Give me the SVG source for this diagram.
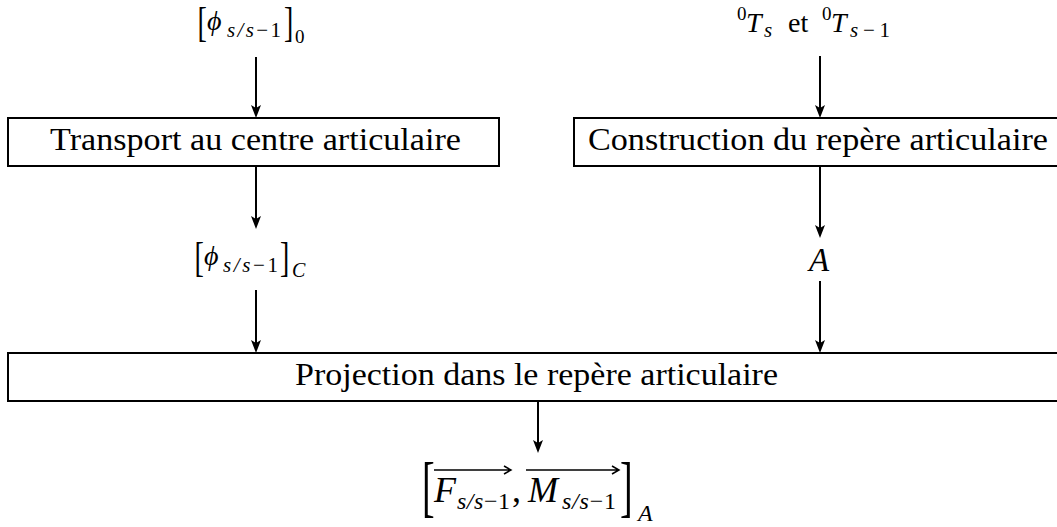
<svg xmlns="http://www.w3.org/2000/svg" width="1057" height="527" viewBox="0 0 1057 527">
<style>
.box{fill:none;stroke:#000;stroke-width:2}
.conn{fill:none;stroke:#000;stroke-width:2;marker-end:url(#ah)}
.t{font-family:"Liberation Serif","DejaVu Serif",serif;fill:#000}
.it{font-style:italic}
.vec{fill:none;stroke:#000;stroke-width:1.5}
</style>
<defs>
<marker id="ah" markerUnits="userSpaceOnUse" viewBox="0 0 13 10" refX="9" refY="5" markerWidth="13" markerHeight="10" orient="auto">
<path d="M0,0 L13,5 L0,10 L3,5 z" fill="#000"/>
</marker>
</defs>
<rect width="1057" height="527" fill="#fff"/>

<g id="connectors">
<line class="conn" x1="256" y1="57" x2="256" y2="114"/>
<line class="conn" x1="820" y1="56" x2="820" y2="114"/>
<line class="conn" x1="256" y1="166" x2="256" y2="225"/>
<line class="conn" x1="820" y1="166" x2="820" y2="234"/>
<line class="conn" x1="256" y1="290" x2="256" y2="349"/>
<line class="conn" x1="820" y1="281" x2="820" y2="349"/>
<line class="conn" x1="538" y1="401" x2="538" y2="449"/>
</g>

<g id="n-phi0" class="t">
<text transform="translate(197.5,36) scale(1,1.5)" font-size="28">[</text>
<text x="207" y="30" font-size="28" class="it">ϕ</text>
<text x="227" y="37" font-size="21" textLength="54" lengthAdjust="spacing"><tspan class="it">s/s</tspan>−1</text>
<text transform="translate(284,36) scale(1,1.5)" font-size="28">]</text>
<text x="295" y="43" font-size="19">0</text>
</g>

<g id="n-T" class="t">
<text x="737" y="20" font-size="19">0</text>
<text x="746" y="32" font-size="28" class="it">T</text>
<text x="764" y="37" font-size="21" class="it">s</text>
<text x="788" y="32" font-size="28">et</text>
<text x="822" y="20" font-size="19">0</text>
<text x="831" y="32" font-size="28" class="it">T</text>
<text x="850" y="37" font-size="21" textLength="40" lengthAdjust="spacing"><tspan class="it">s</tspan>−1</text>
</g>

<g id="n-transport">
<rect class="box" x="8" y="118" width="491" height="48"/>
<text class="t" x="50" y="150" font-size="32" textLength="411" lengthAdjust="spacingAndGlyphs">Transport au centre articulaire</text>
</g>

<g id="n-construction">
<rect class="box" x="574" y="118" width="520" height="48"/>
<text class="t" x="588" y="150" font-size="32" textLength="460" lengthAdjust="spacingAndGlyphs">Construction du repère articulaire</text>
</g>

<g id="n-phiC" class="t">
<text transform="translate(194.5,271) scale(1,1.5)" font-size="28">[</text>
<text x="204" y="265" font-size="28" class="it">ϕ</text>
<text x="223" y="272" font-size="21" textLength="55" lengthAdjust="spacing"><tspan class="it">s/s</tspan>−1</text>
<text transform="translate(280,271) scale(1,1.5)" font-size="28">]</text>
<text x="292" y="277" font-size="20" class="it">C</text>
</g>

<g id="n-A" class="t">
<text x="809" y="271" font-size="33" class="it">A</text>
</g>

<g id="n-projection">
<rect class="box" x="8" y="353" width="1080" height="48"/>
<text class="t" x="295" y="385" font-size="32" textLength="483" lengthAdjust="spacingAndGlyphs">Projection dans le repère articulaire</text>
</g>

<g id="n-FM" class="t">
<text transform="translate(422,509) scale(1,1.8)" font-size="38">[</text>
<text x="434" y="502" font-size="36" class="it">F</text>
<text x="457" y="509" font-size="24" textLength="53" lengthAdjust="spacing"><tspan class="it">s/s</tspan>−1</text>
<text x="512" y="502" font-size="36">,</text>
<text x="528" y="502" font-size="36" class="it">M</text>
<text x="562" y="509" font-size="24" textLength="54" lengthAdjust="spacing"><tspan class="it">s/s</tspan>−1</text>
<text transform="translate(620,509) scale(1,1.8)" font-size="38">]</text>
<text x="638" y="521" font-size="24" class="it">A</text>
<path class="vec" d="M434,470 H511 M504,466 L511,470 L504,474"/>
<path class="vec" d="M526,470 H619 M612,466 L619,470 L612,474"/>
</g>
</svg>
